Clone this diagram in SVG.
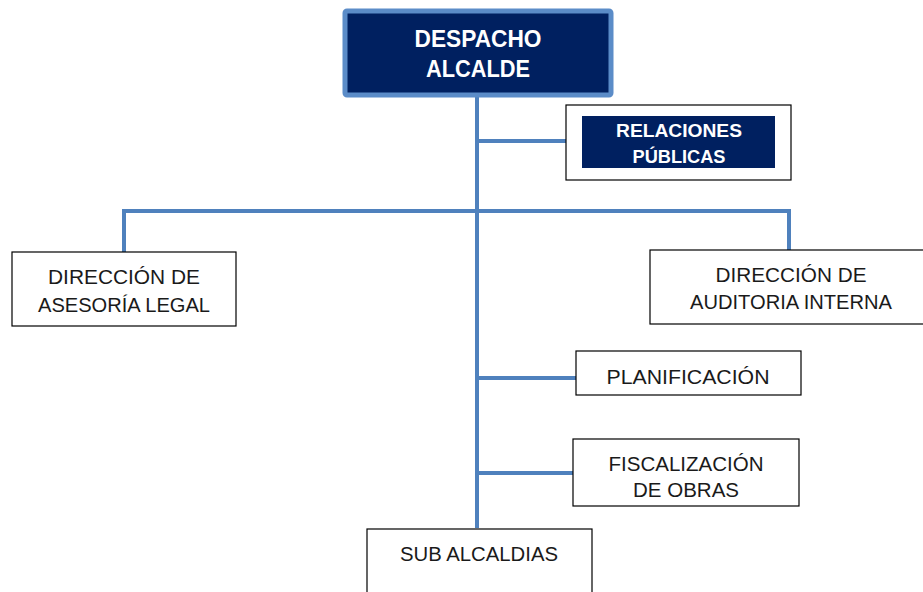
<svg xmlns="http://www.w3.org/2000/svg" width="923" height="592" viewBox="0 0 923 592">
<style>
.box{fill:#ffffff;stroke:#000000;stroke-width:1.2}
.navy{fill:#002060}
.t{font-family:"Liberation Sans",Arial,sans-serif;font-size:20.5px;fill:#1a1a1a;text-anchor:middle}
.tb{font-family:"Liberation Sans",Arial,sans-serif;font-weight:bold;fill:#ffffff;text-anchor:middle}
.c{fill:none;stroke:#4f81bd;stroke-width:4}
</style>
<rect width="923" height="592" fill="#ffffff"/>
<g id="connectors">
<line class="c" x1="477" y1="96" x2="477" y2="528"/>
<line class="c" x1="477" y1="141" x2="566" y2="141"/>
<polyline class="c" points="124,252 124,211 789,211 789,250"/>
<line class="c" x1="477" y1="378" x2="576" y2="378"/>
<line class="c" x1="477" y1="473" x2="573" y2="473"/>
</g>
<g id="despacho">
<rect x="345" y="11" width="266" height="84" rx="2" fill="#002060" stroke="#5b8cc8" stroke-width="5"/>
<text class="tb" x="478" y="47" font-size="23" textLength="127" lengthAdjust="spacingAndGlyphs">DESPACHO</text>
<text class="tb" x="478" y="77" font-size="23" textLength="104" lengthAdjust="spacingAndGlyphs">ALCALDE</text>
</g>
<g id="relaciones">
<rect class="box" x="566" y="105" width="225" height="75"/>
<rect class="navy" x="582" y="116" width="193" height="52"/>
<text class="tb" x="679" y="137" font-size="18.5" textLength="126" lengthAdjust="spacingAndGlyphs">RELACIONES</text>
<text class="tb" x="679" y="163" font-size="18.5" textLength="93" lengthAdjust="spacingAndGlyphs">PÚBLICAS</text>
</g>
<g id="asesoria">
<rect class="box" x="12" y="252" width="224" height="74"/>
<text class="t" x="124" y="284" textLength="152" lengthAdjust="spacingAndGlyphs">DIRECCIÓN DE</text>
<text class="t" x="124" y="312" textLength="172" lengthAdjust="spacingAndGlyphs">ASESORÍA LEGAL</text>
</g>
<g id="auditoria">
<rect class="box" x="650" y="250" width="280" height="74"/>
<text class="t" x="791" y="282" textLength="151" lengthAdjust="spacingAndGlyphs">DIRECCIÓN DE</text>
<text class="t" x="791" y="309" textLength="202" lengthAdjust="spacingAndGlyphs">AUDITORIA INTERNA</text>
</g>
<g id="planificacion">
<rect class="box" x="576" y="351" width="225" height="44"/>
<text class="t" x="688" y="384" textLength="163" lengthAdjust="spacingAndGlyphs">PLANIFICACIÓN</text>
</g>
<g id="fiscalizacion">
<rect class="box" x="573" y="439" width="226" height="67"/>
<text class="t" x="686" y="471" textLength="155" lengthAdjust="spacingAndGlyphs">FISCALIZACIÓN</text>
<text class="t" x="686" y="497" textLength="106" lengthAdjust="spacingAndGlyphs">DE OBRAS</text>
</g>
<g id="subalcaldias">
<rect class="box" x="367" y="529" width="225" height="80"/>
<text class="t" x="479" y="561" textLength="158" lengthAdjust="spacingAndGlyphs">SUB ALCALDIAS</text>
</g>
</svg>
